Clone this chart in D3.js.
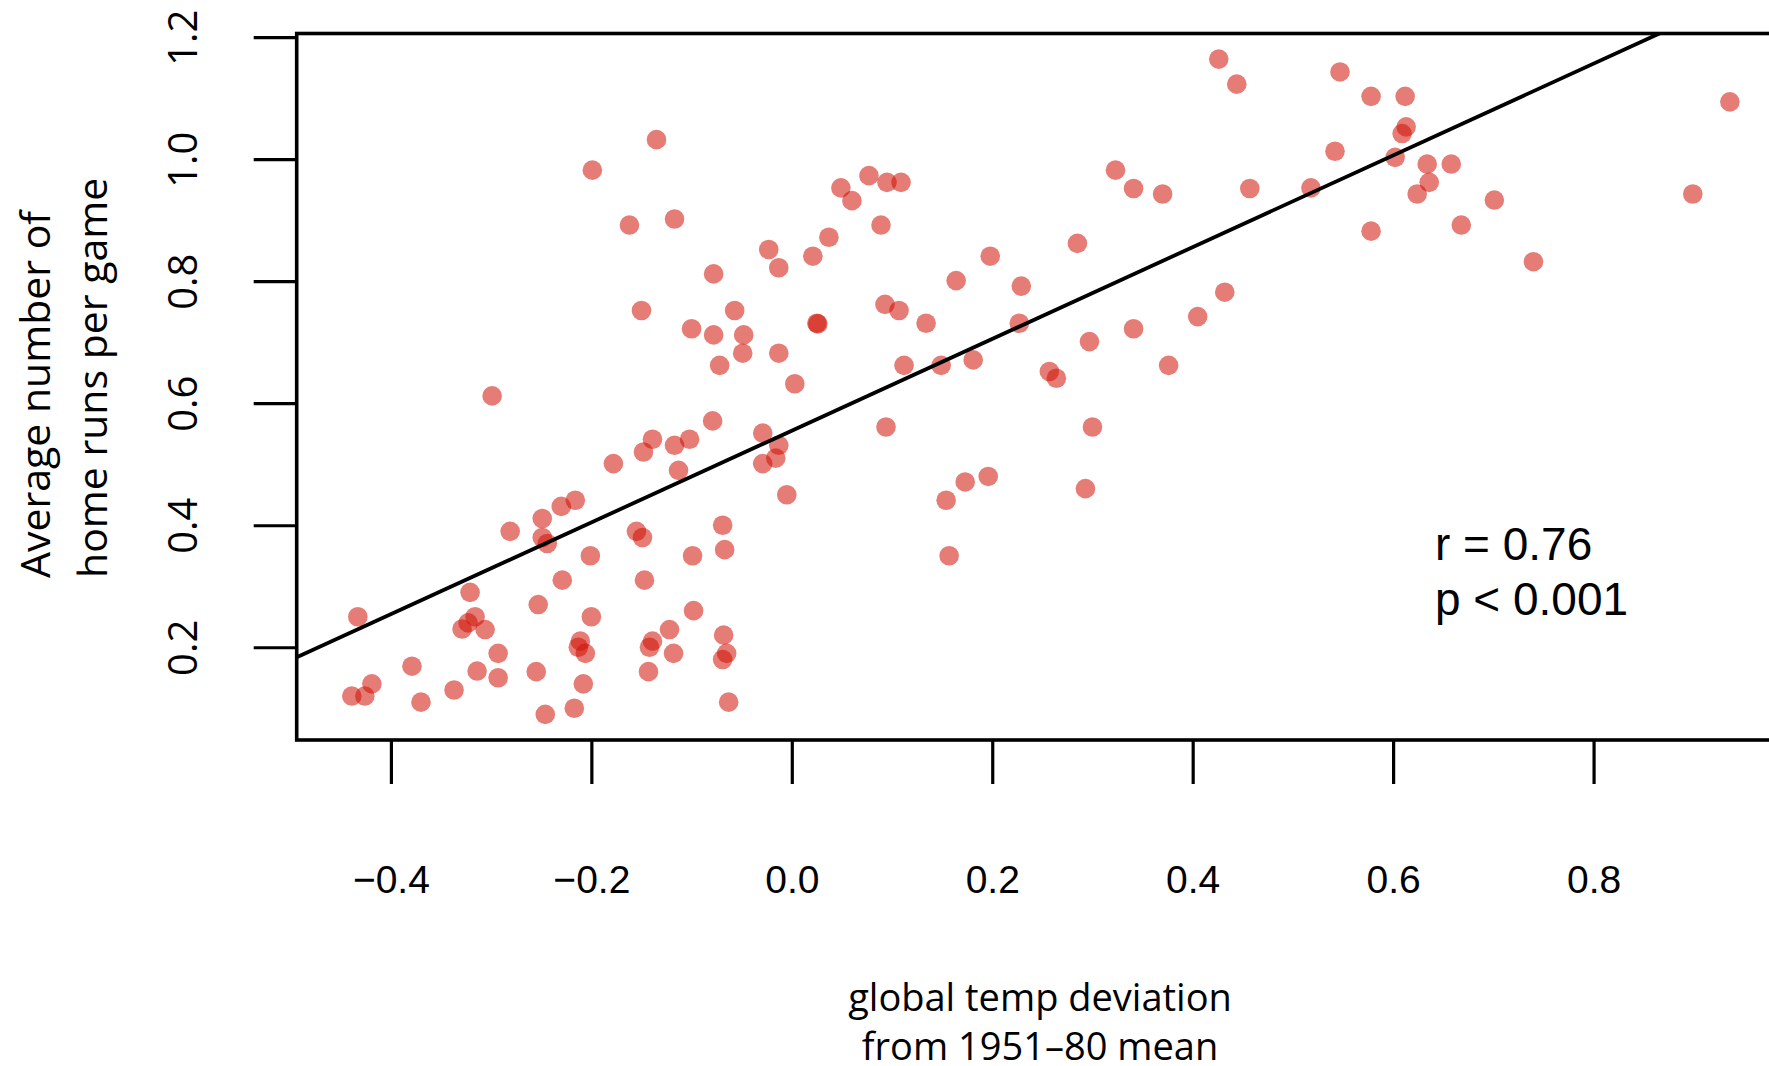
<!DOCTYPE html>
<html>
<head>
<meta charset="utf-8">
<script src="https://cdn.jsdelivr.net/npm/d3@7"></script>
<style>
  html, body { margin: 0; padding: 0; background: #fff; }
  svg { display: block; }
</style>
</head>
<body>
<svg id="chart" width="1769" height="1066"></svg>
<script>
// ---- data ----
const tempDev = [
  -0.135,-0.199,-0.162,-0.117,-0.023,-0.013,-0.078,-0.150,-0.057,-0.100,-0.078,-0.048,-0.049,-0.013,-0.072,0.003,-0.299,
  0.426,0.444,0.049,0.060,0.077,0.095,0.109,0.089,0.037,0.021,0.198,0.164,0.229,0.285,0.323,0.341,0.370,0.457,
  0.093,0.107,0.025,0.026,0.134,0.227,0.297,0.341,0.405,0.432,0.112,0.149,0.181,0.257,0.264,0.376,
  0.547,0.578,0.612,0.613,0.609,0.542,0.602,0.634,0.658,0.636,0.518,0.624,0.701,0.668,0.578,0.740,0.936,0.899,
  0.094,0.300,0.173,0.196,0.154,0.293,0.157,
  -0.079,-0.178,-0.148,-0.139,-0.117,-0.102,-0.113,-0.029,-0.013,-0.016,-0.029,-0.005,
  -0.281,-0.249,-0.230,-0.216,-0.249,-0.244,-0.155,-0.149,-0.069,-0.067,-0.201,-0.099,
  -0.321,-0.229,-0.147,-0.253,-0.433,-0.316,-0.323,-0.329,-0.306,-0.200,-0.098,-0.122,-0.068,
  -0.211,-0.213,-0.206,-0.139,-0.142,-0.118,-0.065,-0.069,-0.293,-0.379,-0.314,-0.293,-0.255,-0.143,
  -0.419,-0.439,-0.426,-0.337,-0.370,-0.208,-0.246,-0.217,-0.063
];
const homeRuns = [
  1.032,0.982,0.892,0.902,0.852,0.822,0.812,0.752,0.752,0.722,0.712,0.712,0.682,0.682,0.662,0.632,0.612,
  1.164,1.123,0.953,0.932,0.973,0.962,0.962,0.892,0.872,0.841,0.841,0.801,0.792,0.862,0.982,0.952,0.943,0.952,
  0.762,0.752,0.731,0.730,0.731,0.731,0.701,0.722,0.742,0.782,0.662,0.662,0.671,0.652,0.641,0.662,
  1.143,1.103,1.103,1.053,1.042,1.013,1.003,0.992,0.992,0.962,0.953,0.943,0.933,0.892,0.882,0.832,1.094,0.943,
  0.561,0.561,0.471,0.480,0.441,0.460,0.350,
  0.571,0.501,0.520,0.541,0.531,0.541,0.490,0.551,0.531,0.510,0.501,0.450,
  0.390,0.411,0.431,0.441,0.380,0.370,0.390,0.380,0.400,0.360,0.350,0.350,
  0.290,0.310,0.310,0.270,0.250,0.250,0.240,0.230,0.229,0.250,0.260,0.229,0.220,
  0.210,0.200,0.190,0.210,0.200,0.190,0.190,0.180,0.190,0.169,0.161,0.150,0.160,0.160,
  0.140,0.120,0.120,0.130,0.110,0.140,0.090,0.100,0.110
];
const xTicks = [-0.4, -0.2, 0.0, 0.2, 0.4, 0.6, 0.8];
const yTicks = [0.2, 0.4, 0.6, 0.8, 1.0, 1.2];
const fitIntercept = 0.555;
const fitSlope = 0.752;
const statLines = ["r = 0.76", "p < 0.001"];
const xTitleLines = ["global temp deviation", "from 1951\u201380 mean"];
const yTitleLines = ["Average number of", "home runs per game"];

// ---- layout ----
const svg = d3.select("#chart");
const L = 296.7, R = 1789, T = 33.5, B = 740;
const x = d3.scaleLinear().domain([-0.494, 0.995]).range([L, R]);
const y = d3.scaleLinear().domain([0.048, 1.206]).range([B, T]);

svg.append("rect").attr("width", 1769).attr("height", 1066).attr("fill", "#fff");

svg.append("defs").append("clipPath").attr("id", "plotclip")
  .append("rect").attr("x", L).attr("y", T).attr("width", R - L).attr("height", B - T);

const pts = tempDev.map((d, i) => ({ x: d, y: homeRuns[i] }));

svg.append("g").selectAll("circle").data(pts).join("circle")
  .attr("cx", d => x(d.x))
  .attr("cy", d => y(d.y))
  .attr("r", 9.8)
  .attr("fill", "rgb(208,16,4)")
  .attr("fill-opacity", 0.55);

// regression line
const xd = x.domain();
svg.append("line")
  .attr("clip-path", "url(#plotclip)")
  .attr("x1", x(xd[0])).attr("y1", y(fitIntercept + fitSlope * xd[0]))
  .attr("x2", x(xd[1])).attr("y2", y(fitIntercept + fitSlope * xd[1]))
  .attr("stroke", "#000").attr("stroke-width", 3.8);

// box
svg.append("rect")
  .attr("x", L).attr("y", T).attr("width", R - L).attr("height", B - T)
  .attr("fill", "none").attr("stroke", "#000").attr("stroke-width", 3.6);

// x axis
const fmt = d => (d < 0 ? "\u2212" : "") + Math.abs(d).toFixed(1);
const gx = svg.append("g").attr("transform", `translate(0,${B})`)
  .call(d3.axisBottom(x).tickValues(xTicks).tickSize(44).tickFormat(fmt));
gx.select(".domain").remove();
gx.selectAll(".tick line").attr("stroke", "#000").attr("stroke-width", 3.2);
gx.selectAll(".tick text")
  .attr("y", 153).attr("dy", 0)
  .attr("fill", "#000")
  .style("font-family", "'Liberation Sans', Arial, sans-serif")
  .style("font-size", "39px");

// y axis
const gy = svg.append("g").attr("transform", `translate(${L},0)`)
  .call(d3.axisLeft(y).tickValues(yTicks).tickSize(43).tickFormat(d => d.toFixed(1)));
gy.select(".domain").remove();
gy.selectAll(".tick line").attr("stroke", "#000").attr("stroke-width", 3.2);
gy.selectAll(".tick text")
  .attr("transform", "rotate(-90)")
  .attr("x", 0).attr("y", -99.7).attr("dy", 0)
  .attr("text-anchor", "middle")
  .attr("fill", "#000")
  .style("font-family", "'Open Sans', sans-serif")
  .style("font-size", "40px");

// stat text
svg.append("g").selectAll("text").data(statLines).join("text")
  .attr("x", 1435)
  .attr("y", (d, i) => 560 + i * 55)
  .attr("fill", "#000")
  .style("font-family", "'Liberation Sans', Arial, sans-serif")
  .style("font-size", "46px")
  .text(d => d);

// x title
svg.append("g").selectAll("text").data(xTitleLines).join("text")
  .attr("x", 1040)
  .attr("y", (d, i) => 1011 + i * 49)
  .attr("text-anchor", "middle")
  .attr("fill", "#000")
  .style("font-family", "'Open Sans', sans-serif")
  .style("font-size", "38px")
  .text(d => d);

// y title
svg.append("g").selectAll("text").data(yTitleLines).join("text")
  .attr("transform", (d, i) => `translate(${50 + i * 57},578) rotate(-90)`)
  .attr("text-anchor", "start")
  .attr("fill", "#000")
  .style("font-family", "'Open Sans', sans-serif")
  .style("font-size", "41px")
  .text(d => d);
</script>
</body>
</html>
